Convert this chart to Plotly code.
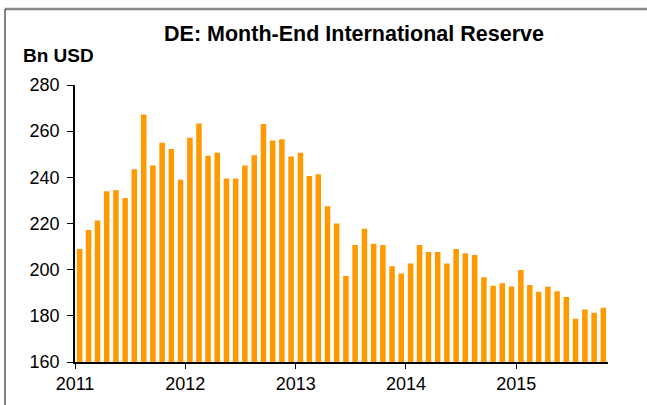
import plotly.graph_objects as go
import pandas as pd

# month-end reserves, Jan 2011 - Oct 2015
months = pd.date_range("2011-01-01", "2015-10-01", freq="MS")
reserve = [
    208.9, 217.2, 221.3, 234.0, 234.4, 231.1, 243.5, 267.2, 245.1, 255.0, 252.3, 239.0,
    257.1, 263.3, 249.4, 250.6, 239.5, 239.5, 245.1, 249.6, 263.1, 256.0, 256.5, 249.0,
    250.7, 240.6, 241.3, 227.5, 220.0, 197.3, 210.7, 217.7, 211.2, 210.7, 201.5, 198.3,
    202.7, 210.7, 207.6, 207.6, 202.7, 209.0, 207.1, 206.3, 196.7, 193.0, 194.1, 192.7,
    199.9, 193.4, 190.4, 192.6, 190.7, 188.2, 178.7, 182.7, 181.3, 183.5,
]
year_ticks = ["2011-01-01", "2012-01-01", "2013-01-01", "2014-01-01", "2015-01-01"]
year_labels = ["2011", "2012", "2013", "2014", "2015"]

fig = go.Figure()
fig.add_trace(go.Bar(
    x=months, y=reserve,
    xperiod="M1", xperiodalignment="middle",
    marker=dict(color="#FF9900", line=dict(width=0)),
))

# plot area is 75..608 px wide, 85..362 px tall
L, R, T, B = 75, 39, 85, 43
pw, ph = 647 - L - R, 405 - T - B

def px(x):
    return (x - L) / pw

def py(y):
    return (405 - B - y) / ph

fig.update_layout(
    width=647, height=405,
    margin=dict(l=L, r=R, t=T, b=B),
    paper_bgcolor="white", plot_bgcolor="white",
    bargap=0.38,
    showlegend=False,
    font=dict(family="Liberation Sans, Arial", size=18, color="black"),
    title=dict(text="<b>DE: Month-End International Reserve</b>",
               x=px(354), xref="paper", xanchor="center",
               y=1 - 33 / 405, yanchor="middle",
               font=dict(size=21.5, color="black")),
    xaxis=dict(type="date", range=["2011-01-01", "2015-11-01"],
               tickvals=year_ticks, ticktext=year_labels,
               showgrid=False, zeroline=False,
               showline=True, linecolor="black", linewidth=1.5,
               ticks="outside", ticklen=5, tickcolor="black"),
    yaxis=dict(range=[160, 280], dtick=20,
               showgrid=False, zeroline=False,
               showline=True, linecolor="black", linewidth=1.5,
               ticks="outside", ticklen=6, tickcolor="black",
               ticklabelstandoff=4),
    annotations=[dict(text="<b>Bn USD</b>", xref="paper", yref="paper",
                      x=px(21), y=py(55), xanchor="left", yanchor="middle",
                      showarrow=False, font=dict(size=19, color="black"))],
    shapes=[
        dict(type="line", xref="paper", yref="paper",
             x0=px(5), x1=px(647), y0=py(9), y1=py(9),
             line=dict(color="#888888", width=2.5)),
        dict(type="line", xref="paper", yref="paper",
             x0=px(5), x1=px(5), y0=py(9), y1=py(405),
             line=dict(color="#333333", width=1.2)),
    ],
)

fig.write_html("out.html", config={"displayModeBar": False},
               post_script="document.body.style.margin='0';")
